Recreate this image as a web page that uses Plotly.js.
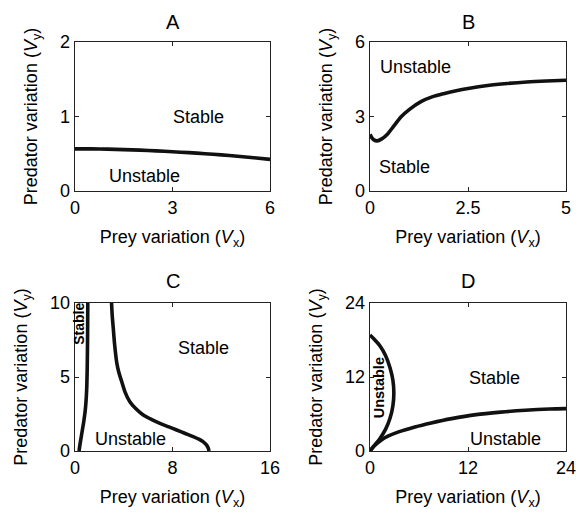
<!DOCTYPE html>
<html><head><meta charset="utf-8">
<script src="https://cdn.plot.ly/plotly-3.0.1.min.js"></script>
<style>html,body{margin:0;padding:0;background:#fff}#chart{width:576px;height:513px}</style>
</head><body><div id="chart"></div>
<script>
// ---- data ----
const panelTitles = ['A', 'B', 'C', 'D'];

// Panel A
const aX = [0, 0.5, 1, 1.5, 2, 2.5, 3, 3.5, 4, 4.5, 5, 5.5, 6];
const aY = [0.565, 0.565, 0.562, 0.556, 0.548, 0.538, 0.527, 0.515, 0.501, 0.485, 0.466, 0.446, 0.424];
const aXTicks = [0, 3, 6];
const aYTicks = [0, 1, 2];

// Panel B
const bX = [0, 0.05, 0.1, 0.18, 0.3, 0.45, 0.6, 0.8, 1.0, 1.3, 1.6, 1.9, 2.2, 2.5, 3.0, 3.5, 4.0, 4.5, 5.0];
const bY = [2.28, 2.14, 2.06, 2.02, 2.1, 2.3, 2.6, 3.0, 3.28, 3.6, 3.8, 3.93, 4.04, 4.13, 4.25, 4.33, 4.39, 4.43, 4.46];
const bXTicks = [0, 2.5, 5];
const bYTicks = [0, 3, 6];

// Panel C (two boundaries)
const cLeftX = [0.33, 0.42, 0.52, 0.62, 0.72, 0.82, 0.9, 0.96, 1.0, 1.03, 1.05];
const cLeftY = [0, 0.5, 1.0, 1.5, 2.0, 2.6, 3.3, 4.2, 5.5, 7.5, 10];
const cRightX = [3.0, 3.05, 3.14, 3.25, 3.42, 3.6, 3.83, 4.1, 4.5, 5.0, 5.6, 6.3, 6.97, 7.7, 8.34, 9.0, 9.7, 10.2, 10.5, 10.8, 10.94, 11.0];
const cRightY = [10, 9.2, 8.3, 7.2, 6.0, 5.3, 4.7, 4.0, 3.33, 2.85, 2.43, 2.12, 1.87, 1.63, 1.42, 1.2, 0.97, 0.78, 0.63, 0.4, 0.18, 0];
const cXTicks = [0, 8, 16];
const cYTicks = [0, 5, 10];

// Panel D (loop and lower boundary)
const dLoopX = [0, 0.6, 1.25, 1.9, 2.45, 2.8, 2.92, 2.8, 2.45, 1.9, 1.2, 0.55, 0];
const dLoopY = [18.8, 18.0, 17.0, 15.5, 13.5, 11.5, 9.4, 7.3, 5.3, 3.5, 2.0, 0.9, 0];
const dLowX = [0, 0.5, 1.4, 2.2, 3.5, 5.5, 7.5, 10, 13, 16, 19, 22, 24];
const dLowY = [0, 0.8, 1.8, 2.4, 3.1, 3.9, 4.55, 5.25, 5.9, 6.3, 6.6, 6.8, 6.87];
const dXTicks = [0, 12, 24];
const dYTicks = [0, 12, 24];

// ---- styling ----
const FONT = 'Liberation Sans, Arial, Helvetica, sans-serif';
const lineStyle = {color: '#111', width: 3.6, shape: 'spline', smoothing: 0.8};

function trace(x, y, n) {
  return {x: x, y: y, xaxis: 'x' + (n === 1 ? '' : n), yaxis: 'y' + (n === 1 ? '' : n),
    mode: 'lines', line: lineStyle, hoverinfo: 'skip', showlegend: false};
}

const data = [
  trace(aX, aY, 1),
  trace(bX, bY, 2),
  trace(cLeftX, cLeftY, 3),
  trace(cRightX, cRightY, 3),
  trace(dLoopX, dLoopY, 4),
  trace(dLowX, dLowY, 4)
];

const xTitle = 'Prey variation (<i>V</i><sub>x</sub>)';
const yTitle = 'Predator variation (<i>V</i><sub>y</sub>)';

function axis(domain, range, ticks, anchor, title, standoff) {
  return {
    domain: domain, range: range, tickvals: ticks, ticktext: ticks.map(String),
    anchor: anchor, showgrid: false, zeroline: false,
    showline: true, mirror: 'ticks', linecolor: '#222', linewidth: 1.3,
    ticks: 'inside', ticklen: 4, tickwidth: 1, tickcolor: '#222',
    ticklabeloverflow: 'allow',
    tickfont: {family: FONT, size: 18, color: '#000'},
    title: {text: title, font: {family: FONT, size: 18, color: '#000'}, standoff: standoff},
    fixedrange: true
  };
}

const W = 576, H = 513;
const colL = [75 / W, 270 / W], colR = [370 / W, 566 / W];
const rowT = [1 - 191 / H, 1 - 42 / H], rowB = [1 - 451 / H, 1 - 303 / H];
const XS = 13, YS = 17;

const layout = {
  width: W, height: H, margin: {l: 0, r: 0, t: 0, b: 0},
  paper_bgcolor: '#fff', plot_bgcolor: '#fff', showlegend: false,
  font: {family: FONT, size: 18, color: '#000'},
  xaxis: axis(colL, [0, 6], aXTicks, 'y', xTitle, XS),
  yaxis: axis(rowT, [0, 2], aYTicks, 'x', yTitle, YS),
  xaxis2: axis(colR, [0, 5], bXTicks, 'y2', xTitle, XS),
  yaxis2: axis(rowT, [0, 6], bYTicks, 'x2', yTitle, YS),
  xaxis3: axis(colL, [0, 16], cXTicks, 'y3', xTitle, XS),
  yaxis3: axis(rowB, [0, 10], cYTicks, 'x3', yTitle, YS),
  xaxis4: axis(colR, [0, 24], dXTicks, 'y4', xTitle, XS),
  yaxis4: axis(rowB, [0, 24], dYTicks, 'x4', yTitle, YS),
  annotations: []
};

// panel letters
const titlePos = [[172.5, 22], [468, 22], [172.5, 281], [468, 281]];
panelTitles.forEach((t, i) => {
  layout.annotations.push({text: t, xref: 'paper', yref: 'paper',
    x: titlePos[i][0] / W, y: 1 - titlePos[i][1] / H, xanchor: 'center', yanchor: 'middle',
    showarrow: false, font: {family: FONT, size: 20, color: '#000'}});
});

function label(text, x, y, n, opts) {
  const a = Object.assign({text: text, x: x, y: y,
    xref: 'x' + (n === 1 ? '' : n), yref: 'y' + (n === 1 ? '' : n),
    xanchor: 'center', yanchor: 'middle', showarrow: false,
    font: {family: FONT, size: 18, color: '#000'}}, opts || {});
  layout.annotations.push(a);
}
label('Stable', 3.8, 1.0, 1);
label('Unstable', 2.15, 0.2, 1);
label('Unstable', 1.17, 5.0, 2);
label('Stable', 0.89, 0.98, 2);
label('Stable', 10.56, 6.98, 3);
label('Unstable', 4.57, 0.83, 3);
label('<b>Stable</b>', 0.33, 8.6, 3, {textangle: -90, font: {family: FONT, size: 14, color: '#000'}});
label('Stable', 15.3, 11.9, 4);
label('Unstable', 16.6, 1.9, 4);
label('<b>Unstable</b>', 1.2, 10.3, 4, {textangle: -90, font: {family: FONT, size: 14.5, color: '#000'}});

Plotly.newPlot('chart', data, layout, {staticPlot: true, displayModeBar: false});
</script>
</body></html>
